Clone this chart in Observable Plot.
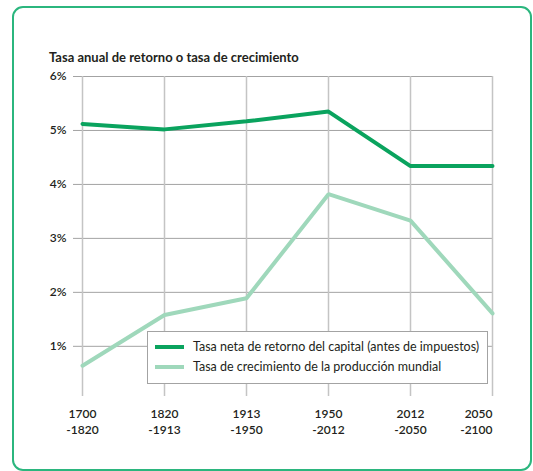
<!DOCTYPE html>
<html><head><meta charset="utf-8">
<script src="https://cdn.jsdelivr.net/npm/d3@7"></script>
<script src="https://cdn.jsdelivr.net/npm/@observablehq/plot@0.6"></script>
<style>
body{margin:0;background:#fff;font-family:Lato,"Noto Sans",sans-serif;color:#231f20;}
#wrap{position:relative;width:533px;height:471px;overflow:hidden;}
#frame{position:absolute;left:12px;top:6px;width:520px;height:465px;border:2px solid #2bb67e;border-radius:11px;box-sizing:border-box;}
#title{position:absolute;left:49px;top:49px;font-size:13px;font-weight:700;white-space:nowrap;}
#chart{position:absolute;left:0;top:0;}
#legend{position:absolute;left:147px;top:331px;width:341px;height:53px;border:1px solid #a3a3a3;background:#fff;box-sizing:border-box;}
.item{position:absolute;left:0;height:20px;width:100%;}
.sw{position:absolute;left:7px;width:29px;height:4px;top:8px;}
.lab{position:absolute;left:45px;top:1px;font-size:12.5px;line-height:18px;white-space:nowrap;}
</style></head>
<body>
<div id="wrap">
  <div id="frame"></div>
  <div id="chart"></div>
  <div id="title">Tasa anual de retorno o tasa de crecimiento</div>
  <div id="legend"></div>
</div>
<script>
const periods = ["1700\n-1820","1820\n-1913","1913\n-1950","1950\n-2012","2012\n-2050","2050\n-2100"];
const capitalReturn = [5.12, 5.02, 5.17, 5.35, 4.34, 4.34];
const outputGrowth = [0.64, 1.58, 1.89, 3.82, 3.33, 1.61];
const yTicks = [1, 2, 3, 4, 5, 6];
const seriesNames = ["Tasa neta de retorno del capital (antes de impuestos)", "Tasa de crecimiento de la producción mundial"];
const seriesColors = ["#0aa35e", "#9fd8bb"];

const capRows = periods.map((p, i) => ({period: p, value: capitalReturn[i]}));
const growRows = periods.map((p, i) => ({period: p, value: outputGrowth[i]}));

const xLabelStyle = {tickSize: 0, tickPadding: 10, fill: "#231f20", fontWeight: 600, fontSize: 12, lineHeight: 1.33, label: null};

const chart = Plot.plot({
  width: 533,
  height: 440,
  marginLeft: 81,
  marginRight: 40.5,
  marginTop: 76,
  marginBottom: 44,
  style: {fontFamily: "Lato, 'Noto Sans', sans-serif", fontSize: "12px", color: "#231f20", background: "transparent"},
  x: {type: "point", domain: periods, padding: 0},
  y: {domain: [0.07, 6]},
  marks: [
    Plot.gridY(yTicks, {stroke: "#a3a3a3", strokeOpacity: 1, strokeWidth: 1}),
    Plot.gridX(periods, {stroke: "#c4c4c4", strokeOpacity: 1, strokeWidth: 1.5}),
    Plot.axisY(yTicks, {tickSize: 8, tickPadding: 7, tickFormat: d => d + "%", stroke: "#a3a3a3", fill: "#231f20", fontWeight: 600, fontSize: 12, label: null}),
    Plot.axisX(periods.slice(0, -1), xLabelStyle),
    Plot.axisX(periods.slice(-1), {...xLabelStyle, textAnchor: "end"}),
    Plot.line(growRows, {x: "period", y: "value", stroke: seriesColors[1], strokeWidth: 4, strokeLinejoin: "miter"}),
    Plot.line(capRows, {x: "period", y: "value", stroke: seriesColors[0], strokeWidth: 4, strokeLinejoin: "miter"})
  ]
});
document.getElementById("chart").appendChild(chart);

const legend = document.getElementById("legend");
seriesNames.forEach((name, i) => {
  const item = document.createElement("div");
  item.className = "item";
  item.style.top = (5 + i * 20) + "px";
  const sw = document.createElement("div");
  sw.className = "sw";
  sw.style.background = seriesColors[i];
  const lab = document.createElement("div");
  lab.className = "lab";
  lab.textContent = name;
  item.appendChild(sw);
  item.appendChild(lab);
  legend.appendChild(item);
});
</script>
</body></html>
